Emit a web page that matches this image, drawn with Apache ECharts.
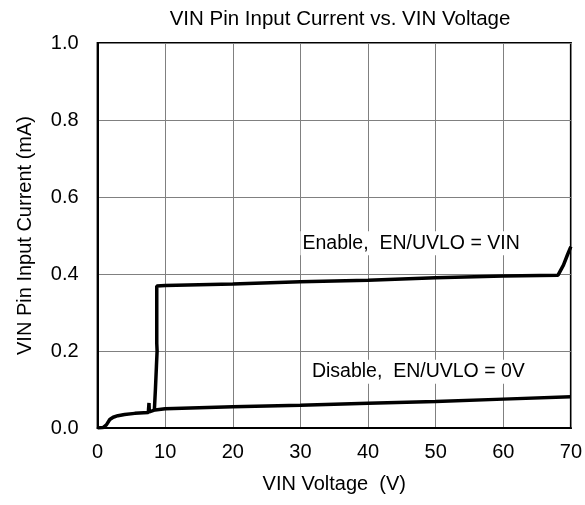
<!DOCTYPE html>
<html>
<head>
<meta charset="utf-8">
<script src="https://cdn.jsdelivr.net/npm/echarts@6/dist/echarts.min.js"></script>
<style>html,body{margin:0;padding:0;background:#fff}#c{width:585px;height:505px}</style>
</head>
<body>
<div id="c"></div>
<script>
// Data
var enableVin = [8.4, 8.55, 8.7, 8.8, 8.75, 8.75, 10, 20, 30, 40, 50, 60, 68.1, 68.9, 69.5, 70];
var enableI   = [0.048, 0.10, 0.16, 0.20, 0.22, 0.369, 0.370, 0.374, 0.380, 0.384, 0.390, 0.395, 0.397, 0.423, 0.450, 0.471];
var disableVin = [0, 0.8, 1.3, 1.8, 2.3, 3, 4, 5.5, 7.5, 7.6, 7.65, 7.75, 8.5, 10, 20, 30, 40, 50, 60, 70];
var disableI   = [0, 0.001, 0.008, 0.022, 0.028, 0.032, 0.035, 0.038, 0.040, 0.065, 0.042, 0.042, 0.047, 0.050, 0.055, 0.059, 0.064, 0.069, 0.075, 0.081];
var xTicks = [0, 10, 20, 30, 40, 50, 60, 70];
var yTicks = [0.0, 0.2, 0.4, 0.6, 0.8, 1.0];
var annotations = [
  {text: 'Enable,  EN/UVLO = VIN', x: 30, y: 0.48},
  {text: 'Disable,  EN/UVLO = 0V', x: 31.4, y: 0.146}
];

function zip(a, b) { return a.map(function (v, i) { return [v, b[i]]; }); }
var font = '"Liberation Sans", Arial, sans-serif';

var chart = echarts.init(document.getElementById('c'), null, {renderer: 'canvas'});
var option = {
  animation: false,
  backgroundColor: '#fff',
  title: {
    text: 'VIN Pin Input Current vs. VIN Voltage',
    left: 335, top: 4, textAlign: 'center',
    textStyle: {fontFamily: font, fontSize: 20.5, fontWeight: 'normal', color: '#000'}
  },
  grid: {left: 97.6, right: 13, top: 43, bottom: 77, show: true, borderColor: '#000', borderWidth: 2, backgroundColor: 'transparent'},
  xAxis: {
    type: 'value', min: xTicks[0], max: xTicks[xTicks.length - 1], interval: 10,
    name: 'VIN Voltage  (V)', nameLocation: 'middle', nameGap: 46,
    nameTextStyle: {fontFamily: font, fontSize: 20, color: '#000'},
    axisLine: {show: true, lineStyle: {color: '#000', width: 2}},
    axisTick: {show: false},
    axisLabel: {fontFamily: font, fontSize: 20, color: '#000', margin: 14},
    splitLine: {show: true, lineStyle: {color: '#808080', width: 1}}
  },
  yAxis: {
    type: 'value', min: yTicks[0], max: yTicks[yTicks.length - 1], interval: 0.2,
    name: 'VIN Pin Input Current (mA)', nameLocation: 'middle', nameGap: 62,
    nameTextStyle: {fontFamily: font, fontSize: 20, color: '#000'},
    axisLine: {show: true, lineStyle: {color: '#000', width: 2}},
    axisTick: {show: false},
    axisLabel: {fontFamily: font, fontSize: 20, color: '#000', margin: 19,
      formatter: function (v) { return v.toFixed(1); }},
    splitLine: {show: true, lineStyle: {color: '#808080', width: 1}}
  },
  series: [
    {type: 'line', name: 'Enable', data: zip(enableVin, enableI), showSymbol: false, symbol: 'none',
     lineStyle: {color: '#000', width: 3.5}, z: 5},
    {type: 'line', name: 'Disable', data: zip(disableVin, disableI), showSymbol: false, symbol: 'none',
     lineStyle: {color: '#000', width: 3.5}, z: 5}
  ]
};
chart.setOption(option);

var g = annotations.map(function (a) {
  var p = chart.convertToPixel({gridIndex: 0}, [a.x, a.y]);
  return {
    type: 'text', x: p[0], y: p[1], z: 10,
    style: {text: a.text, fontFamily: font, fontSize: 19.5, fill: '#000',
      backgroundColor: '#fff', padding: [2, 2, 2, 2], align: 'left', verticalAlign: 'middle'}
  };
});
chart.setOption({graphic: g});
</script>
</body>
</html>
